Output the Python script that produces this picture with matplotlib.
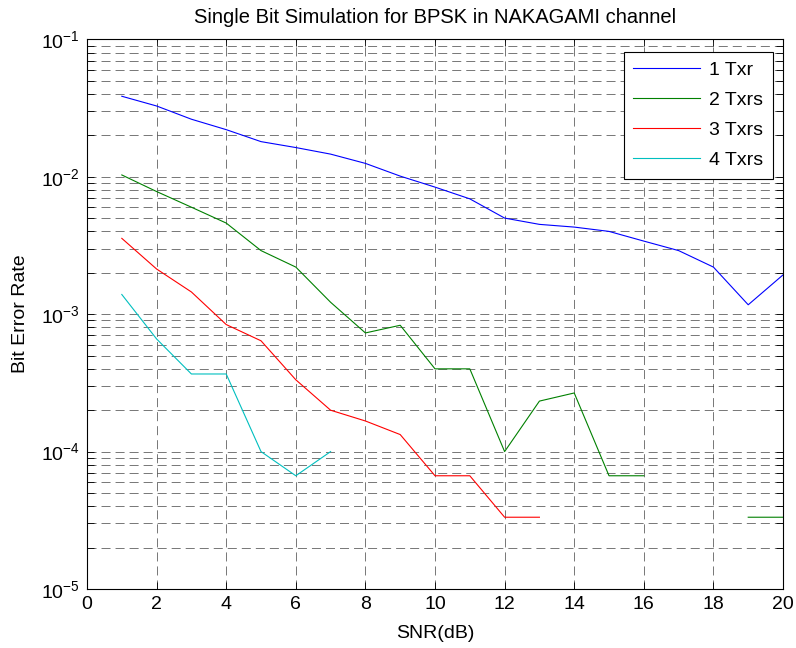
import numpy as np
import matplotlib
matplotlib.use("Agg")
import matplotlib.pyplot as plt
from matplotlib.ticker import LogLocator, FixedLocator, NullFormatter

plt.rcParams["font.family"] = ["Liberation Sans", "DejaVu Sans"]
plt.rcParams["mathtext.default"] = "regular"
plt.rcParams["lines.scale_dashes"] = False

# SNR points and BER per number of transmitters (zero errors -> not drawn)
snr = list(range(1, 21))
nan = np.nan
ber_1 = [0.0385, 0.0327, 0.0262, 0.0220, 0.0180, 0.0163, 0.0146, 0.0125, 0.0101, 0.0084,
         0.0069, 0.0050, 0.0045, 0.0043, 0.0040, 0.0034, 0.0029, 0.0022, 0.00117, 0.00193]
ber_2 = [0.0103, 0.0078, 0.0060, 0.0046, 0.0029, 0.0022, 0.00122, 0.00073, 0.00083, 0.00040,
         0.00040, 0.00010, 0.000233, 0.000267, 6.67e-5, 6.67e-5, nan, nan, 3.33e-5, 3.33e-5]
ber_3 = [0.00356, 0.00213, 0.00145, 0.00084, 0.00064, 0.000333, 0.00020, 0.000167, 0.000133, 6.67e-5,
         6.67e-5, 3.33e-5, 3.33e-5, nan, nan, nan, nan, nan, nan, nan]
ber_4 = [0.00139, 0.00066, 0.000367, 0.000367, 0.00010, 6.67e-5, 0.00010, nan, nan, nan,
         nan, nan, nan, nan, nan, nan, nan, nan, nan, nan]

labels = ["1 Txr", "2 Txrs", "3 Txrs", "4 Txrs"]
colors = ["#0000ff", "#008000", "#ff0000", "#00bfbf"]

fs = 14

fig = plt.figure(figsize=(7.96, 6.48), dpi=100)
ax = fig.add_axes([0.1093, 0.0910, 0.8744, 0.8484])

for y, lab, c in zip([ber_1, ber_2, ber_3, ber_4], labels, colors):
    ax.semilogy(snr, y, color=c, linewidth=0.8, label=lab)

ax.set_xlim(0, 20)
ax.set_ylim(1e-5, 1e-1)
ax.xaxis.set_major_locator(FixedLocator(range(0, 21, 2)))
ax.yaxis.set_major_locator(LogLocator(base=10, numticks=10))
ax.yaxis.set_minor_locator(LogLocator(base=10, subs=np.arange(2, 10), numticks=20))
ax.yaxis.set_minor_formatter(NullFormatter())

ax.tick_params(which="both", direction="in", top=True, right=True, labelsize=fs,
               length=5, width=0.6)
ax.tick_params(which="major", pad=5)

grid_style = dict(color="black", linestyle=(0, (6.5, 3.6)), linewidth=0.5, alpha=0.75)
ax.grid(True, which="major", axis="both", **grid_style)
ax.grid(True, which="minor", axis="y", **grid_style)

for s in ax.spines.values():
    s.set_linewidth(0.8)

ax.set_title("Single Bit Simulation for BPSK in NAKAGAMI channel", fontsize=fs + 0.5, pad=12)
ax.set_xlabel("SNR(dB)", fontsize=fs, labelpad=9)
ax.set_ylabel("Bit Error Rate", fontsize=fs, labelpad=8.5)

leg = ax.legend(loc="upper right", bbox_to_anchor=(0.9856, 0.9775), borderaxespad=0,
                fancybox=False, framealpha=1, edgecolor="black", fontsize=fs,
                handlelength=3.45, handletextpad=0.45, labelspacing=0.64,
                borderpad=0.5)
leg.get_frame().set_linewidth(0.8)

fig.savefig("out.png", dpi=100)
